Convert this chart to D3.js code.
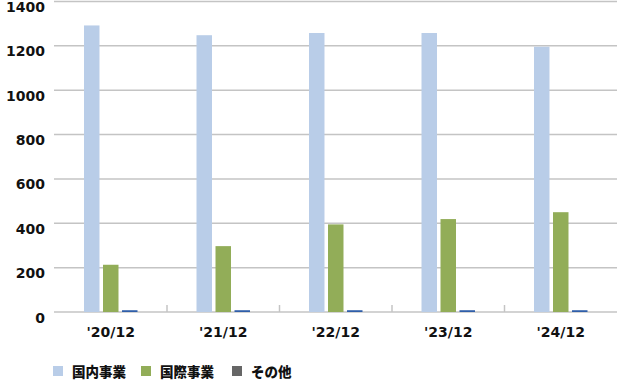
<!DOCTYPE html>
<html>
<head>
<meta charset="utf-8">
<script src="https://cdn.jsdelivr.net/npm/d3@7"></script>
<style>
  body { margin: 0; background: #fff; }
  svg text { font-family: "DejaVu Sans", Verdana, sans-serif; font-weight: bold; fill: #111; }
  .legend text { font-family: "Noto Sans CJK JP", sans-serif; font-weight: 900; }
</style>
</head>
<body>
<div id="chart"></div>
<script>
// chart data
const categories = ["'20/12", "'21/12", "'22/12", "'23/12", "'24/12"]
const seriesNames = ["国内事業", "国際事業", "その他"]
const domestic = [1292, 1248, 1258, 1258, 1196]
const international = [213, 297, 395, 419, 450]
const other = [8, 8, 8, 8, 8]
const yTicks = [0, 200, 400, 600, 800, 1000, 1200, 1400]

// colours for the bars and for the legend keys
const barColors = ["#b9cde8", "#92ad58", "#2f5ea9"]
const legendColors = ["#b9cde8", "#92ad58", "#666666"]

const width = 617, height = 380

// rows: one per category with all 3 values
const rows = categories.map((c, i) => ({ cat: c, values: [domestic[i], international[i], other[i]] }))

const svg = d3.select("#chart")
    .append("svg")
    .attr("width", width)
    .attr("height", height)

// scales
const x = d3.scaleBand()
    .domain(categories)
    .range([54.5, 617])

const xs = d3.scaleBand()
    .domain(d3.range(seriesNames.length))
    .range([-26.75, 26.75])
    .paddingInner(0.185)

const y = d3.scaleLinear()
    .domain([0, 1400])
    .range([312, 1.5])

// gridlines
svg.append("g")
    .selectAll("line")
    .data(yTicks.filter(d => d > 0))
    .join("line")
    .attr("x1", 54)
    .attr("x2", width)
    .attr("y1", d => y(d))
    .attr("y2", d => y(d))
    .attr("stroke", "#c4c4c4")
    .attr("stroke-width", 1.5)

// y labels, sitting just under their gridline
svg.append("g")
    .selectAll("text")
    .data(yTicks)
    .join("text")
    .attr("x", 45)
    .attr("y", d => y(d) + 10.5)
    .attr("text-anchor", "end")
    .attr("font-size", "14px")
    .text(d => d)

// x axis line and tick marks between categories
svg.append("line")
    .attr("x1", 54)
    .attr("x2", width)
    .attr("y1", y(0))
    .attr("y2", y(0))
    .attr("stroke", "#c4c4c4")
    .attr("stroke-width", 1.5)

svg.append("g")
    .selectAll("line")
    .data(categories.slice(1))
    .join("line")
    .attr("x1", d => x(d))
    .attr("x2", d => x(d))
    .attr("y1", y(0) - 7)
    .attr("y2", y(0))
    .attr("stroke", "#c4c4c4")
    .attr("stroke-width", 1.5)

// bars
const group = svg.append("g")
    .selectAll("g")
    .data(rows)
    .join("g")
    .attr("transform", d => `translate(${x(d.cat) + x.bandwidth() / 2},0)`)

group.selectAll("rect")
    .data(d => d.values)
    .join("rect")
    .attr("x", (d, i) => xs(i))
    .attr("width", xs.bandwidth())
    .attr("y", d => y(d))
    .attr("height", d => y(0) - y(d))
    .attr("fill", (d, i) => barColors[i])

// x labels
svg.append("g")
    .selectAll("text")
    .data(categories)
    .join("text")
    .attr("x", d => x(d) + x.bandwidth() / 2)
    .attr("y", 337)
    .attr("text-anchor", "middle")
    .attr("font-size", "14px")
    .text(d => d)

// legend
const legendX = [53, 141, 232]
const legend = svg.append("g")
    .attr("class", "legend")
    .selectAll("g")
    .data(seriesNames)
    .join("g")
    .attr("transform", (d, i) => `translate(${legendX[i]},366)`)

legend.append("rect")
    .attr("width", 10)
    .attr("height", 10)
    .attr("fill", (d, i) => legendColors[i])

legend.append("text")
    .attr("x", 19)
    .attr("y", 10.5)
    .attr("font-size", "13.5px")
    .text(d => d)
</script>
</body>
</html>
